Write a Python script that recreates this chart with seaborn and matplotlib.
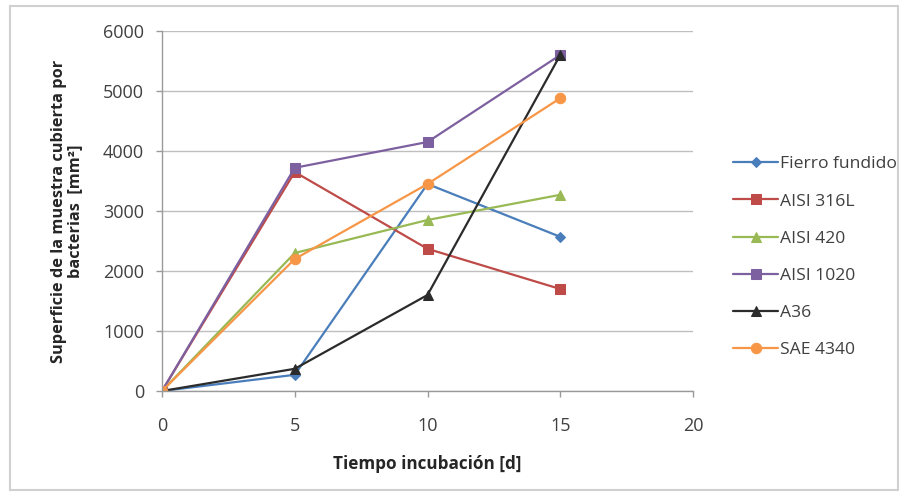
import matplotlib
matplotlib.use("Agg")
import matplotlib.pyplot as plt
import seaborn as sns
import pandas as pd
from matplotlib.patches import Rectangle

dias = [0, 5, 10, 15]
fierro_fundido = [0, 270, 3450, 2570]
aisi_316l = [0, 3650, 2370, 1700]
aisi_420 = [0, 2300, 2850, 3270]
aisi_1020 = [0, 3720, 4150, 5600]
a36 = [0, 370, 1600, 5600]
sae_4340 = [0, 2200, 3450, 4880]

series = ["Fierro fundido", "AISI 316L", "AISI 420", "AISI 1020", "A36", "SAE 4340"]
valores = [fierro_fundido, aisi_316l, aisi_420, aisi_1020, a36, sae_4340]
colores = ["#4A7EBB", "#BE4B48", "#98B954", "#7D60A0", "#2B2B2B", "#F79646"]
marcadores = ["D", "s", "^", "s", "^", "o"]
tamanos = [5, 7, 7, 7, 7, 7.5]

rows = []
for s, v in zip(series, valores):
    for d, y in zip(dias, v):
        rows.append({"dia": d, "valor": y, "serie": s})
df = pd.DataFrame(rows)

sns.set_theme(style="white")
plt.rcParams["font.family"] = ["Open Sans", "DejaVu Sans"]

fig = plt.figure(figsize=(9.03, 4.96), dpi=100)
ax = fig.add_axes([162/903, 1 - 391/496, (693-162)/903, (391-31)/496])

for s, c, m, ms in zip(series, colores, marcadores, tamanos):
    sns.lineplot(data=df[df["serie"] == s], x="dia", y="valor", ax=ax,
                 color=c, marker=m, markersize=ms, markeredgecolor=c,
                 linewidth=1.6, label=s, legend=False)

ax.set_xlim(0, 20)
ax.set_ylim(0, 6000)
ax.set_xticks([0, 5, 10, 15, 20])
ax.set_yticks(range(0, 6001, 1000))
ax.yaxis.grid(True, color="#BFBFBF", linewidth=1)
ax.xaxis.grid(False)
for side in ["top", "right"]:
    ax.spines[side].set_visible(False)
for side in ["left", "bottom"]:
    ax.spines[side].set_color("#9A9A9A")
    ax.spines[side].set_linewidth(1)
ax.tick_params(axis="y", labelsize=13, colors="#404040", length=4,
               direction="out", left=True, width=1, pad=9)
ax.tick_params(axis="x", labelsize=13, colors="#404040", length=4,
               direction="out", bottom=True, width=1, pad=15)
ax.tick_params(axis="both", color="#9A9A9A")
ax.set_xlabel("Tiempo incubación [d]", fontsize=12.3, fontweight="bold", labelpad=14, color="#262626")
ax.set_ylabel("Superficie de la muestra cubierta por\nbacterias  [mm²]", fontsize=11.8,
              fontweight="bold", labelpad=14, color="#262626", linespacing=1.0)
ax.set_axisbelow(True)

handles, labels = ax.get_legend_handles_labels()
leg = fig.legend(handles, labels, loc="upper left", bbox_to_anchor=(733/903, 1 - 156/496),
                 frameon=False, fontsize=12.6, labelspacing=1.2, handlelength=2.6,
                 handletextpad=0.1, borderaxespad=0, borderpad=0)
for t in leg.get_texts():
    t.set_color("#404040")

fig.patches.append(Rectangle((10/903, 6/496), 888/903, 484/496, transform=fig.transFigure,
                             fill=False, edgecolor="#D0D0D0", linewidth=1.5))

fig.savefig("out.png", dpi=100)
